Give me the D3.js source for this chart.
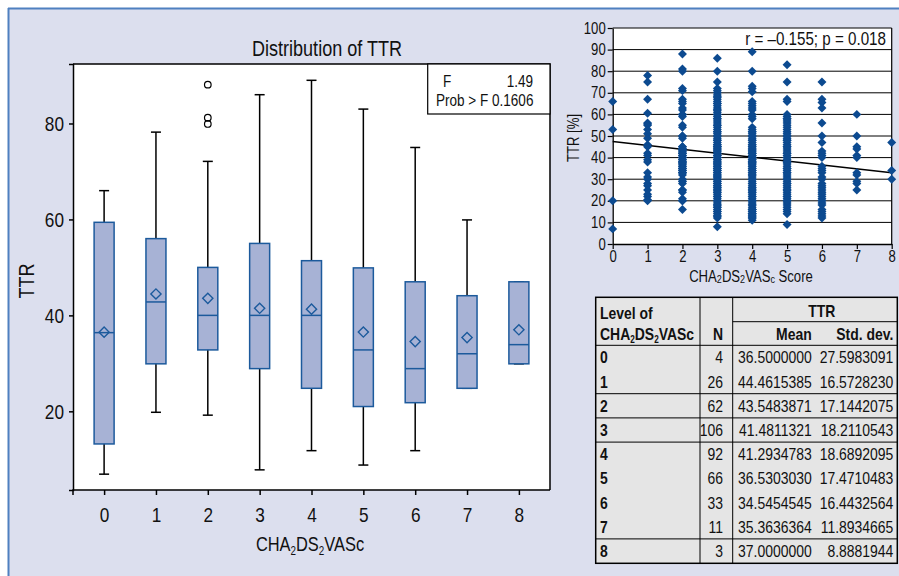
<!DOCTYPE html>
<html><head><meta charset="utf-8">
<script src="https://cdn.jsdelivr.net/npm/d3@7"></script>
<style>
body{margin:0;background:#fff}
svg{display:block}
text{font-family:'Liberation Sans',Arial,sans-serif}
</style>
</head><body>
<svg id="c" width="899" height="576"></svg>
<script>
// ---------- DATA ----------
const categories = [0, 1, 2, 3, 4, 5, 6, 7, 8];
// box plot
const boxQ1      = [13.2, 29.9, 32.8, 28.9, 24.8, 21.0, 21.8, 24.8, 29.9];
const boxMedian  = [36.4, 42.8, 40.0, 40.0, 40.0, 32.8, 28.9, 32.0, 33.9];
const boxQ3      = [59.4, 56.0, 50.0, 55.0, 51.4, 49.9, 47.0, 44.1, 47.0];
const whiskerLow = [6.9, 19.8, 19.2, 7.8, 11.8, 8.8, 11.8, 24.8, 29.9];
const whiskerHigh= [66.0, 78.2, 72.1, 86.0, 89.0, 83.0, 75.0, 59.9, 47.0];
const groupMean  = [36.5, 44.4615385, 43.5483871, 41.4811321, 41.2934783, 36.5303030, 34.5454545, 35.3636364, 37.0];
const outlierCat = [2, 2, 2];
const outlierVal = [88.1, 81.2, 79.9];
const boxYTicks  = [20, 40, 60, 80];
const fStat = "1.49";
const fProb = "0.1606";

// table
const tableN   = [4, 26, 62, 106, 92, 66, 33, 11, 3];
const tableStd = [27.5983091, 16.5728230, 17.1442075, 18.2110543, 18.6892095, 17.4710483, 16.4432564, 11.8934665, 8.8881944];

// scatter (TTR [%] per CHA2DS2VASc score)
const ttrScore0 = [66, 53, 20, 7];
const ttrScore1 = [78, 75, 67, 60.5, 56, 55.5, 55, 53, 51, 49, 46, 45, 42, 41, 39, 38, 33, 31, 30, 28, 27, 25, 23, 22, 20.5, 20];
const ttrScore2 = [88, 81, 80, 72, 71, 67, 66, 65, 63, 62, 60, 60, 59, 55, 54, 50, 50, 49, 45, 44, 44, 43, 43, 42, 42, 41, 41, 40, 40, 40, 39, 39, 38, 38, 37, 37, 36, 36, 35, 35, 34, 34, 33, 33, 33, 32, 30, 29, 29, 28, 25, 25, 24, 21, 20, 20, 16, 44, 42, 38, 35, 45];
const ttrScore3 = [86, 80, 75, 72, 71, 70, 69, 68, 67, 66, 65, 64, 63, 62, 61, 60, 59, 58, 57, 56, 55, 54, 53, 52, 51, 50, 49, 48, 47, 46, 45, 44, 43, 42, 41, 40, 39, 38, 37, 36, 35, 34, 33, 32, 31, 30, 29, 28, 27, 26, 25, 24, 23, 22, 21, 20, 19, 18, 17, 16, 15, 14, 13, 12, 8,
  20, 22, 25, 28, 30, 31, 32, 33, 34, 35, 36, 37, 38, 39, 40, 41, 42, 43, 44, 45, 46, 48, 50, 52, 55, 58, 60, 62, 65, 68, 24, 26, 27, 29, 15, 17, 18, 13, 35, 40, 45];
const ttrScore4 = [89, 80, 73, 72, 70.5, 66, 65, 64, 63, 62, 60, 59, 58, 54, 53, 52, 51, 50, 49, 48, 47, 46, 45, 44, 43, 42, 41, 40, 39, 38, 37, 36, 35, 34, 33, 32, 31, 30, 29, 28, 27, 26, 25, 24, 23, 22, 21, 20, 19, 18, 17, 16, 15, 14, 13, 12, 11,
  12, 13, 14, 15, 16, 18, 20, 22, 24, 25, 26, 28, 30, 32, 33, 34, 35, 36, 37, 38, 39, 40, 41, 42, 43, 44, 45, 46, 48, 50, 52, 14, 16, 38, 42];
const ttrScore5 = [83, 75, 67, 66, 60, 59, 58, 57, 56, 55, 54, 53, 52, 51, 50, 49, 48, 47, 46, 45, 44, 43, 42, 41, 40, 39, 38, 37, 36, 35, 34, 33, 32, 31, 30, 29, 28, 27, 26, 25, 24, 23, 22, 21, 20, 19, 18, 17, 16, 15, 14, 9,
  20, 22, 25, 28, 30, 33, 35, 38, 40, 42, 45, 48, 50, 58];
const ttrScore6 = [75, 67, 65.5, 63, 56, 50, 47, 43, 42, 41, 40, 36, 35, 34, 33, 31, 30, 28, 27, 26, 25, 24, 23, 22, 21, 20, 19, 18, 16, 15, 14, 13, 12];
const ttrScore7 = [60, 50, 45, 44, 41, 40, 33, 32, 29, 28, 25];
const ttrScore8 = [47, 34, 30];
const scatterYTicks = [0, 10, 20, 30, 40, 50, 60, 70, 80, 90, 100];
const regressionLine = [[0, 47.4], [8, 33.0]];
const corrText = "r = \u20130.155; p = 0.018";

// ---------- DRAW ----------
const svg = d3.select('#c');
const BLUE = '#1c5a9c', FILL = '#a7b2d5', BG = '#dcdfee';

svg.append('rect').attr('x', 8).attr('y', 8).attr('width', 891).attr('height', 568).attr('fill', BG);
svg.append('line').attr('x1', 8).attr('x2', 899).attr('y1', 8.5).attr('y2', 8.5).attr('stroke', '#4f80c0').attr('stroke-width', 2);
svg.append('line').attr('x1', 8.5).attr('x2', 8.5).attr('y1', 8).attr('y2', 576).attr('stroke', '#4f80c0').attr('stroke-width', 2);

// ===== Box plot =====
const bx = d3.scaleLinear().domain([-0.6, 8.6]).range([73, 550]);
const by = d3.scaleLinear().domain([3.6, 92.4]).range([490, 64]);
const bp = svg.append('g');
bp.append('rect').attr('x', bx(-0.6)).attr('y', by(92.4)).attr('width', bx(8.6) - bx(-0.6)).attr('height', by(3.6) - by(92.4)).attr('fill', '#fff');

const boxes = categories.map((c, i) => ({c, q1: boxQ1[i], med: boxMedian[i], q3: boxQ3[i], lo: whiskerLow[i], hi: whiskerHigh[i], mean: groupMean[i]}));
const bw = 20, cw = 10;
const bg = bp.selectAll('g.box').data(boxes).join('g').attr('class', 'box');
bg.append('line').attr('x1', d => bx(d.c)).attr('x2', d => bx(d.c)).attr('y1', d => by(d.hi)).attr('y2', d => by(d.lo)).attr('stroke', '#000').attr('stroke-width', 1.5);
bg.append('line').attr('x1', d => bx(d.c) - cw / 2).attr('x2', d => bx(d.c) + cw / 2).attr('y1', d => by(d.hi)).attr('y2', d => by(d.hi)).attr('stroke', '#000').attr('stroke-width', 1.5);
bg.append('line').attr('x1', d => bx(d.c) - cw / 2).attr('x2', d => bx(d.c) + cw / 2).attr('y1', d => by(d.lo)).attr('y2', d => by(d.lo)).attr('stroke', '#000').attr('stroke-width', 1.5);
bg.append('rect').attr('x', d => bx(d.c) - bw / 2).attr('width', bw).attr('y', d => by(d.q3)).attr('height', d => by(d.q1) - by(d.q3))
  .attr('fill', FILL).attr('stroke', BLUE).attr('stroke-width', 1.5);
bg.append('line').attr('x1', d => bx(d.c) - bw / 2).attr('x2', d => bx(d.c) + bw / 2).attr('y1', d => by(d.med)).attr('y2', d => by(d.med)).attr('stroke', BLUE).attr('stroke-width', 1.5);
bg.append('path').attr('d', d3.symbol(d3.symbolSquare, 52)()).attr('transform', d => `translate(${bx(d.c)},${by(d.mean)}) rotate(45)`)
  .attr('fill', 'none').attr('stroke', BLUE).attr('stroke-width', 1.4);

bp.selectAll('circle.out').data(outlierVal.map((v, i) => ({c: outlierCat[i], v}))).join('circle').attr('class', 'out')
  .attr('cx', d => bx(d.c)).attr('cy', d => by(d.v)).attr('r', 3.3).attr('fill', 'none').attr('stroke', '#000').attr('stroke-width', 1.2);

// frame
bp.append('path').attr('d', `M${bx(-0.6)},${by(92.4)}H${bx(8.6)}V${by(3.6)}`).attr('fill', 'none').attr('stroke', '#000').attr('stroke-width', 1.5);

const bya = bp.append('g').attr('transform', `translate(${bx(-0.6)},0)`)
  .call(d3.axisLeft(by).tickValues(boxYTicks).tickSize(4).tickSizeOuter(4).tickPadding(5));
bya.attr('font-size', 21);
const bxa = bp.append('g').attr('transform', `translate(0,${by(3.6)})`)
  .call(d3.axisBottom(bx).tickValues(categories).tickSize(5).tickSizeOuter(0).tickPadding(12));
bxa.attr('font-size', 21);
bxa.select('.domain').attr('d', `M${bx(-0.6)},5V0H${bx(8.6)}`);
[bya, bxa].forEach(a => { a.select('.domain').attr('stroke-width', 1.5); a.selectAll('.tick line').attr('stroke-width', 1.5); a.selectAll('text').attr('fill', '#111'); });

bp.append('text').attr('x', 327).attr('y', 56).attr('text-anchor', 'middle').attr('font-size', 22).attr('fill', '#111').text('Distribution of TTR');
bp.append('text').attr('transform', 'translate(34,281) rotate(-90)').attr('text-anchor', 'middle').attr('font-size', 22).attr('fill', '#111').text('TTR');
const xl = bp.append('text').attr('x', 310).attr('y', 551).attr('text-anchor', 'middle').attr('font-size', 20).attr('fill', '#111');
xl.append('tspan').text('CHA');
xl.append('tspan').attr('font-size', 12).attr('dy', 4).text('2');
xl.append('tspan').attr('dy', -4).text('DS');
xl.append('tspan').attr('font-size', 12).attr('dy', 4).text('2');
xl.append('tspan').attr('dy', -4).text('VASc');

// F box
bp.append('rect').attr('x', 427.7).attr('y', by(92.4)).attr('width', bx(8.6) - 427.7).attr('height', 50).attr('fill', '#fff').attr('stroke', '#000').attr('stroke-width', 1.2);
bp.append('text').attr('x', 443).attr('y', 87).attr('font-size', 16.5).attr('fill', '#111').text('F');
bp.append('text').attr('x', 533).attr('y', 87).attr('text-anchor', 'end').attr('font-size', 16.5).attr('fill', '#111').text(fStat);
bp.append('text').attr('x', 436).attr('y', 106).attr('font-size', 16.5).attr('fill', '#111').text('Prob > F ' + fProb);

// ===== Scatter =====
const sx = d3.scaleLinear().domain([0, 8]).range([612.7, 891.7]);
const sy = d3.scaleLinear().domain([0, 100]).range([244, 28]);
const sp = svg.append('g');
sp.append('rect').attr('x', sx(0)).attr('y', sy(100)).attr('width', sx(8) - sx(0)).attr('height', sy(0) - sy(100)).attr('fill', '#fff');
sp.selectAll('line.grid').data(scatterYTicks.filter(t => t > 0)).join('line').attr('class', 'grid')
  .attr('x1', sx(0)).attr('x2', sx(8)).attr('y1', d => sy(d)).attr('y2', d => sy(d)).attr('stroke', '#000').attr('stroke-width', 1);
sp.append('line').attr('x1', sx(8)).attr('x2', sx(8)).attr('y1', sy(100)).attr('y2', sy(0)).attr('stroke', '#000').attr('stroke-width', 1.2);

const syA = sp.append('g').attr('transform', `translate(${sx(0)},0)`).call(d3.axisLeft(sy).tickValues(scatterYTicks).tickSize(5).tickSizeOuter(0).tickPadding(2));
syA.attr('font-size', 16);
const sxA = sp.append('g').attr('transform', `translate(0,${sy(0)})`).call(d3.axisBottom(sx).tickValues(categories).tickSize(5).tickSizeOuter(0).tickPadding(2));
sxA.attr('font-size', 16);
[syA, sxA].forEach(a => { a.select('.domain').attr('stroke-width', 1.3); a.selectAll('.tick line').attr('stroke-width', 1.2); a.selectAll('text').attr('fill', '#111'); });

const allScores = [ttrScore0, ttrScore1, ttrScore2, ttrScore3, ttrScore4, ttrScore5, ttrScore6, ttrScore7, ttrScore8];
const pts = [];
allScores.forEach((arr, i) => arr.forEach(v => pts.push({s: categories[i], v})));
sp.append('path').datum(regressionLine).attr('d', d3.line().x(d => sx(d[0])).y(d => sy(d[1]))).attr('stroke', '#000').attr('stroke-width', 1.5).attr('fill', 'none');
sp.selectAll('path.pt').data(pts).join('path').attr('class', 'pt')
  .attr('d', d3.symbol(d3.symbolSquare, 40)()).attr('transform', d => `translate(${sx(d.s)},${sy(d.v)}) rotate(45)`)
  .attr('fill', '#0c4a90');

sp.append('text').attr('x', 886).attr('y', 45).attr('text-anchor', 'end').attr('font-size', 18.5).attr('fill', '#111').text(corrText);
sp.append('text').attr('transform', 'translate(579,138) rotate(-90)').attr('text-anchor', 'middle').attr('font-size', 16).attr('fill', '#111').text('TTR [%]');
const sxl = sp.append('text').attr('x', 751).attr('y', 282).attr('text-anchor', 'middle').attr('font-size', 16).attr('fill', '#111');
sxl.append('tspan').text('CHA');
sxl.append('tspan').attr('font-size', 11).attr('dy', 1).text('2');
sxl.append('tspan').attr('dy', -1).text('DS');
sxl.append('tspan').attr('font-size', 11).attr('dy', 1).text('2');
sxl.append('tspan').attr('dy', -1).text('VAS');
sxl.append('tspan').attr('font-size', 11).attr('dy', 1).text('c');
sxl.append('tspan').attr('dy', -1).text(' Score');

// ===== Table =====
const T = {x0: 595.7, x1: 897.3, y0: 297.3, y1: 563.3, c1: 700, c2: 732.7};
const rowTop = i => 345.3 + i * 24.2;
const tb = svg.append('g');
tb.append('rect').attr('x', T.x0).attr('y', T.y0).attr('width', T.x1 - T.x0).attr('height', T.y1 - T.y0).attr('fill', '#e5e5e5');
const tl = (x1, y1, x2, y2, w) => tb.append('line').attr('x1', x1).attr('y1', y1).attr('x2', x2).attr('y2', y2).attr('stroke', '#000').attr('stroke-width', w || 1);
tl(T.c1, T.y0, T.c1, T.y1);
tl(T.c2, T.y0, T.c2, T.y1);
tl(T.c2, 321.7, T.x1, 321.7);
tl(T.x0, rowTop(0), T.x1, rowTop(0));
[2, 3, 4, 8].forEach(i => tl(T.x0, rowTop(i), T.x1, rowTop(i)));
tb.append('rect').attr('x', T.x0).attr('y', T.y0).attr('width', T.x1 - T.x0).attr('height', T.y1 - T.y0).attr('fill', 'none').attr('stroke', '#000').attr('stroke-width', 1.5);

const FS = 17;
tb.append('text').attr('x', 600).attr('y', 319).attr('font-size', FS).attr('font-weight', 'bold').attr('fill', '#111').text('Level of');
const lh = tb.append('text').attr('x', 600).attr('y', 339.5).attr('font-size', FS).attr('font-weight', 'bold').attr('fill', '#111');
lh.append('tspan').text('CHA');
lh.append('tspan').attr('font-size', 10).attr('dy', 3).text('2');
lh.append('tspan').attr('dy', -3).text('DS');
lh.append('tspan').attr('font-size', 10).attr('dy', 3).text('2');
lh.append('tspan').attr('dy', -3).text('VASc');
tb.append('text').attr('x', 723).attr('y', 339.5).attr('text-anchor', 'end').attr('font-size', FS).attr('font-weight', 'bold').attr('fill', '#111').text('N');
tb.append('text').attr('x', 821.7).attr('y', 316.5).attr('text-anchor', 'middle').attr('font-size', FS).attr('font-weight', 'bold').attr('fill', '#111').text('TTR');
tb.append('text').attr('x', 811.7).attr('y', 339.5).attr('text-anchor', 'end').attr('font-size', FS).attr('font-weight', 'bold').attr('fill', '#111').text('Mean');
tb.append('text').attr('x', 893.3).attr('y', 339.5).attr('text-anchor', 'end').attr('font-size', FS).attr('font-weight', 'bold').attr('fill', '#111').text('Std. dev.');

const f7 = d3.format('.7f');
const rows = categories.map((c, i) => ({c, n: tableN[i], m: groupMean[i], s: tableStd[i], i}));
const rg = tb.selectAll('g.row').data(rows).join('g').attr('class', 'row').attr('transform', d => `translate(0,${rowTop(d.i) + 18})`);
rg.append('text').attr('x', 600).attr('font-size', FS).attr('font-weight', 'bold').attr('fill', '#111').text(d => d.c);
rg.append('text').attr('x', 723).attr('text-anchor', 'end').attr('font-size', FS).attr('fill', '#111').text(d => d.n);
rg.append('text').attr('x', 811.7).attr('text-anchor', 'end').attr('font-size', FS).attr('fill', '#111').text(d => f7(d.m));
rg.append('text').attr('x', 893.3).attr('text-anchor', 'end').attr('font-size', FS).attr('fill', '#111').text(d => f7(d.s));

// condense all text horizontally to mimic a narrow typeface
svg.selectAll('text').each(function () {
  const w = this.getComputedTextLength();
  if (w > 0) d3.select(this).attr('textLength', (w * 0.82).toFixed(2)).attr('lengthAdjust', 'spacingAndGlyphs');
});
</script>
</body></html>
